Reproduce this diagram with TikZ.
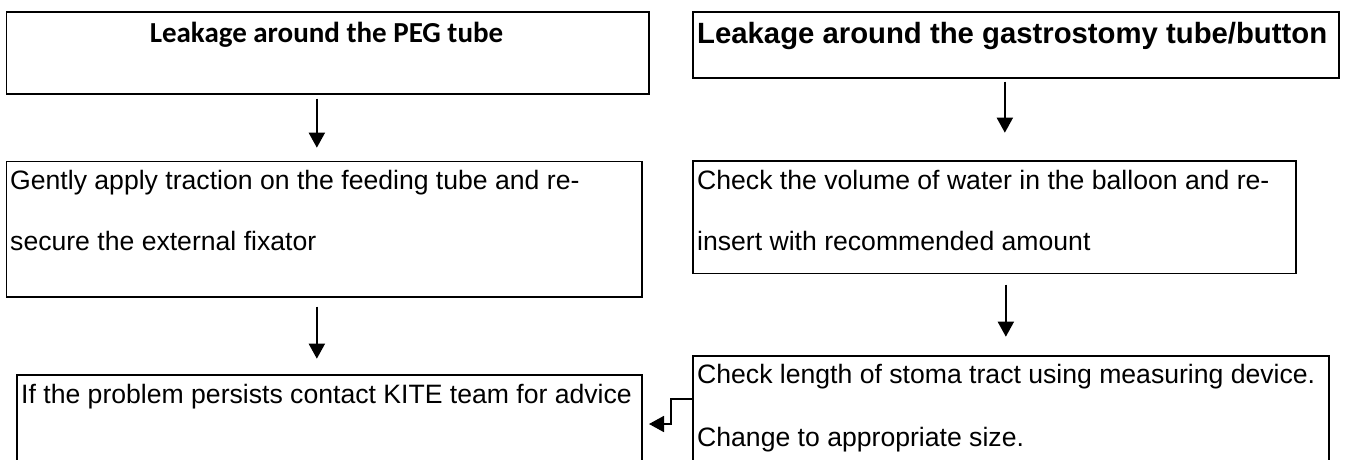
\documentclass[tikz,border=0pt]{standalone}
\usepackage{fontspec}
\setmainfont{Liberation Sans}
\newfontfamily\carlito{Carlito}
\usetikzlibrary{arrows.meta}
\tikzset{
  box/.style={draw, line width=1.7pt, anchor=north west, inner sep=0pt},
  txt/.style={anchor=base west, inner sep=0pt, font=\fontsize{26.6}{30}\selectfont},
  arr/.style={line width=1.8pt, -{Triangle[length=15pt,width=16pt]}},
}
\begin{document}
\begin{tikzpicture}[x=1pt,y=-1pt]
\clip (0,0) rectangle (1347,459);
\fill[white] (0,0) rectangle (1347,459);
% boxes
\node[box, minimum width=642.5pt, minimum height=82pt] (b1) at (5.5,11) {};
\node[box, minimum width=646pt, minimum height=66pt] (b2) at (692,11) {};
\node[box, minimum width=635.5pt, minimum height=135.5pt] (b3) at (5.5,160.5) {};
\node[box, minimum width=603pt, minimum height=112.5pt] (b4) at (692,160) {};
\node[box, minimum width=636pt, minimum height=150pt] (b5) at (692,355) {};
\node[box, minimum width=625pt, minimum height=130pt] (b6) at (16,374) {};
% texts
\node[anchor=base, inner sep=0pt, font=\carlito\bfseries\fontsize{29}{32}\selectfont] (t1) at (326.5,42) {Leakage around the PEG tube};
\node[anchor=base west, inner sep=0pt, font=\bfseries\fontsize{29.3}{34}\selectfont] (t2) at (697,43) {Leakage around the gastrostomy tube/button};
\node[txt] (t3a) at (10,189) {Gently apply traction on the feeding tube and re-};
\node[txt] (t3b) at (10,250) {secure the external fixator};
\node[txt] (t4a) at (697,189) {Check the volume of water in the balloon and re-};
\node[txt] (t4b) at (697,250) {insert with recommended amount};
\node[txt] (t5a) at (697,383) {Check length of stoma tract using measuring device.};
\node[txt] (t5b) at (697,446) {Change to appropriate size.};
\node[txt] (t6) at (21,403) {If the problem persists contact KITE team for advice};
% connectors
\draw[arr] ([xshift=-10.75pt,yshift=-4pt]b1.south) -- ++(0,49);
\draw[arr] ([xshift=-11pt,yshift=-3pt]b2.south) -- ++(0,51);
\draw[arr] ([xshift=-7.25pt,yshift=-9pt]b3.south) -- ++(0,52);
\draw[arr] ([xshift=11.5pt,yshift=-10.5pt]b4.south) -- ++(0,52);
\draw[arr] ([yshift=-44pt]b5.north west) -- ++(-21,0) -- ++(0,25) -- ++(-22,0);
\end{tikzpicture}
\end{document}
